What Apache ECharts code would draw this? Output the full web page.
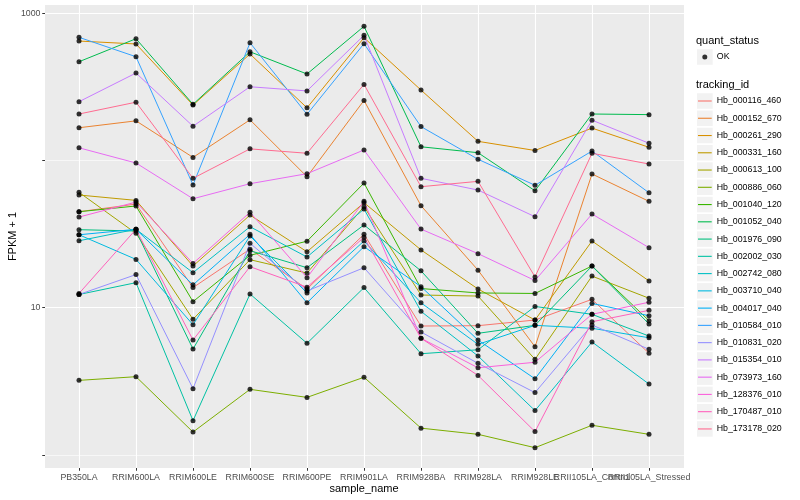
<!DOCTYPE html>
<html>
<head>
<meta charset="utf-8">
<script src="https://cdn.jsdelivr.net/npm/echarts@6/dist/echarts.min.js"></script>
<style>html,body{margin:0;padding:0;background:#ffffff}#c{width:800px;height:500px}</style>
</head>
<body>
<div id="c"></div>
<script>
// ---- data (FPKM + 1) ----
const categories = ['PB350LA','RRIM600LA','RRIM600LE','RRIM600SE','RRIM600PE','RRIM901LA','RRIM928BA','RRIM928LA','RRIM928LE','RRII105LA_Control','RRII105LA_Stressed'];
const trackingIds = ['Hb_000116_460','Hb_000152_670','Hb_000261_290','Hb_000331_160','Hb_000613_100','Hb_000886_060','Hb_001040_120','Hb_001052_040','Hb_001976_090','Hb_002002_030','Hb_002742_080','Hb_003710_040','Hb_004017_040','Hb_010584_010','Hb_010831_020','Hb_015354_010','Hb_073973_160','Hb_128376_010','Hb_170487_010','Hb_173178_020'];
const quantStatus = ['OK'];
const yTickLabels = [10, 1000];

const Hb_000116_460 = [44.9, 50.6, 13.7, 25.0, 13.4, 31.5, 7.51, 7.55, 8.25, 11.4, 4.90];
const Hb_000152_670 = [167, 186, 105, 189, 77.6, 256, 49.3, 18.0, 5.43, 81.0, 52.8];
const Hb_000261_290 = [648, 619, 238, 529, 228, 683, 301, 135, 117, 166, 123];
const Hb_000331_160 = [58.3, 53.6, 19.2, 42.6, 24.0, 51.7, 24.7, 13.4, 8.25, 28.4, 15.2];
const Hb_000613_100 = [60.8, 32.0, 8.34, 21.2, 17.2, 48.6, 12.2, 12.0, 4.46, 16.4, 11.6];
const Hb_000886_060 = [3.21, 3.40, 1.43, 2.79, 2.46, 3.37, 1.52, 1.38, 1.12, 1.59, 1.38];
const Hb_001040_120 = [44.9, 49.1, 11.0, 22.7, 28.3, 70.3, 13.5, 12.6, 12.5, 19.2, 8.16];
const Hb_001052_040 = [469, 672, 241, 548, 387, 816, 124, 113, 62.3, 207, 205];
const Hb_001976_090 = [33.9, 33.2, 5.24, 24.4, 18.7, 36.5, 17.8, 6.70, 7.59, 19.2, 7.75];
const Hb_002002_030 = [12.3, 14.8, 1.71, 12.4, 5.73, 13.7, 4.87, 5.18, 10.2, 9.02, 6.42];
const Hb_002742_080 = [28.5, 34.1, 17.3, 35.5, 22.1, 46.8, 9.45, 4.70, 2.00, 5.85, 3.03];
const Hb_003710_040 = [31.3, 21.3, 7.66, 30.7, 12.6, 28.4, 10.8, 5.64, 7.59, 7.25, 6.25];
const Hb_004017_040 = [31.3, 34.1, 14.3, 31.5, 10.8, 26.0, 13.9, 6.03, 3.29, 10.7, 8.82];
const Hb_010584_010 = [687, 507, 68.2, 631, 206, 622, 170, 102, 67.9, 116, 60.4];
const Hb_010831_020 = [12.3, 16.8, 2.82, 27.4, 13.0, 18.7, 6.84, 4.19, 2.65, 7.63, 5.22];
const Hb_015354_010 = [251, 393, 171, 317, 297, 709, 75.7, 63.0, 41.5, 188, 131];
const Hb_073973_160 = [122, 96.2, 55.0, 69.6, 81.4, 118, 34.2, 23.3, 15.3, 43.3, 25.6];
const Hb_128376_010 = [41.3, 52.2, 20.0, 44.5, 16.0, 52.8, 6.20, 3.91, 4.26, 9.02, 10.9];
const Hb_170487_010 = [12.5, 34.1, 6.03, 19.0, 13.8, 30.1, 6.20, 3.47, 1.44, 8.03, 9.60];
const Hb_173178_020 = [207, 249, 75.7, 120, 112, 329, 66.4, 72.2, 16.2, 112, 94.7];

const seriesValues = [Hb_000116_460, Hb_000152_670, Hb_000261_290, Hb_000331_160, Hb_000613_100,
  Hb_000886_060, Hb_001040_120, Hb_001052_040, Hb_001976_090, Hb_002002_030, Hb_002742_080,
  Hb_003710_040, Hb_004017_040, Hb_010584_010, Hb_010831_020, Hb_015354_010, Hb_073973_160,
  Hb_128376_010, Hb_170487_010, Hb_173178_020];

// ---- style ----
const palette = ['#F8766D','#EA8331','#D89000','#C09B00','#A3A500','#7CAE00','#39B600','#00BB4E','#00BF7D','#00C1A3','#00BFC4','#00BAE0','#00B0F6','#35A2FF','#9590FF','#C77CFF','#E76BF3','#FA62DB','#FF62BC','#FF6C91'];
const FONT = 'Liberation Sans, Arial, Helvetica, sans-serif';
const Y_MIN = 0.815, Y_MAX = 1139;
const KEY_BG = '#F2F2F2';

const chart = echarts.init(document.getElementById('c'), null, {renderer: 'canvas'});

const lineSeries = trackingIds.map((id, s) => ({
  name: id,
  type: 'line',
  xAxisIndex: 1, yAxisIndex: 1,
  data: seriesValues[s],
  symbol: 'none',
  showSymbol: false,
  clip: false,
  color: palette[s],
  lineStyle: {width: 1, color: palette[s]},
  emphasis: {disabled: true},
  z: 2
}));

const pointData = [];
seriesValues.forEach(vals => vals.forEach((v, i) => pointData.push([categories[i], v])));

const pointSeries = {
  name: quantStatus[0],
  type: 'scatter',
  xAxisIndex: 1, yAxisIndex: 1,
  data: pointData,
  symbol: 'circle',
  symbolSize: 5,
  clip: false,
  itemStyle: {color: '#000000'},
  emphasis: {disabled: true},
  z: 3
};

const legendText = {fontFamily: FONT, fontSize: 8.8, color: '#000000', lineHeight: 15.5};
const boxText = {fontFamily: FONT, fontSize: 8.8, lineHeight: 15.5,
  rich: {b: {width: 15.7, height: 15.5, lineHeight: 15.5, backgroundColor: KEY_BG}}};

function boxLegend(names, top) {
  return {orient: 'vertical', left: 691, top: top, padding: 0, itemGap: 1.76,
    itemWidth: 1, itemHeight: 1, selectedMode: false, z: 1,
    formatter: function () { return '{b| }'; },
    textStyle: boxText,
    data: names.map(n => ({name: n, icon: 'rect', itemStyle: {color: 'rgba(0,0,0,0)', borderWidth: 0}}))};
}

const option = {
  animation: false,
  backgroundColor: '#ffffff',
  textStyle: {fontFamily: FONT},
  title: [
    {text: 'quant_status', left: 696, top: 34, padding: 0,
     textStyle: {fontFamily: FONT, fontSize: 11, fontWeight: 'normal', color: '#000', lineHeight: 13}},
    {text: 'tracking_id', left: 696, top: 78, padding: 0,
     textStyle: {fontFamily: FONT, fontSize: 11, fontWeight: 'normal', color: '#000', lineHeight: 13}}
  ],
  legend: [
    boxLegend(quantStatus, 49.25),
    {orient: 'vertical', left: 702.3, top: 49.25, padding: 0, itemGap: 1.76,
     itemWidth: 5, itemHeight: 5, selectedMode: false, z: 2,
     textStyle: Object.assign({}, legendText, {padding: [0, 0, 0, 4.5]}),
     data: quantStatus.map(n => ({name: n, icon: 'circle', itemStyle: {color: '#000', borderWidth: 0}}))},
    boxLegend(trackingIds, 93.25),
    {orient: 'vertical', left: 698, top: 93.25, padding: 0, itemGap: 1.76,
     itemWidth: 13.7, itemHeight: 1.1, selectedMode: false, z: 2,
     textStyle: legendText,
     data: trackingIds.map((n, s) => ({name: n, icon: 'rect', itemStyle: {color: palette[s], borderWidth: 0}}))}
  ],
  grid: [
    {left: 45, right: 116, top: 5, bottom: 32, show: true, backgroundColor: '#EBEBEB', borderWidth: 0,
     containLabel: false, outerBoundsMode: 'none'},
    {left: 79, right: 151, top: 5, bottom: 32, show: false, containLabel: false, outerBoundsMode: 'none'}
  ],
  xAxis: [
    {gridIndex: 0, type: 'value', min: 0, max: 1, show: false},
    {gridIndex: 1, type: 'category', data: categories, boundaryGap: false,
     axisLine: {show: false},
     axisTick: {show: true, length: 2.75, lineStyle: {color: '#333333', width: 1}},
     axisLabel: {interval: 0, margin: 4.5, color: '#4D4D4D', fontSize: 8.8, fontFamily: FONT, lineHeight: 10},
     splitLine: {show: true, lineStyle: {color: '#FFFFFF', width: 1.1}},
     name: 'sample_name', nameLocation: 'middle', nameGap: 14, nameMoveOverlap: false,
     nameTextStyle: {color: '#000', fontSize: 11, fontFamily: FONT, lineHeight: 13}}
  ],
  yAxis: [
    {gridIndex: 0, type: 'log', logBase: 10, min: Y_MIN, max: Y_MAX,
     axisLine: {show: false},
     axisTick: {show: true, length: 2.75, lineStyle: {color: '#333333', width: 1}},
     axisLabel: {margin: 4.5, color: '#4D4D4D', fontSize: 8.8, fontFamily: FONT,
       showMinLabel: false, showMaxLabel: false,
       formatter: function (v) {
         const m = yTickLabels.find(t => Math.abs(v / t - 1) < 1e-6);
         return m ? String(m) : '';
       }},
     splitLine: {show: true, showMinLine: false, showMaxLine: false,
       lineStyle: {color: ['#F7F7F7', '#FFFFFF'], width: 1.1}},
     name: 'FPKM + 1', nameLocation: 'middle', nameGap: 27, nameMoveOverlap: false,
     nameTextStyle: {color: '#000', fontSize: 11, fontFamily: FONT}},
    {gridIndex: 1, type: 'log', logBase: 10, min: Y_MIN, max: Y_MAX, show: false}
  ],
  series: lineSeries.concat([pointSeries])
};

chart.setOption(option);
</script>
</body>
</html>
